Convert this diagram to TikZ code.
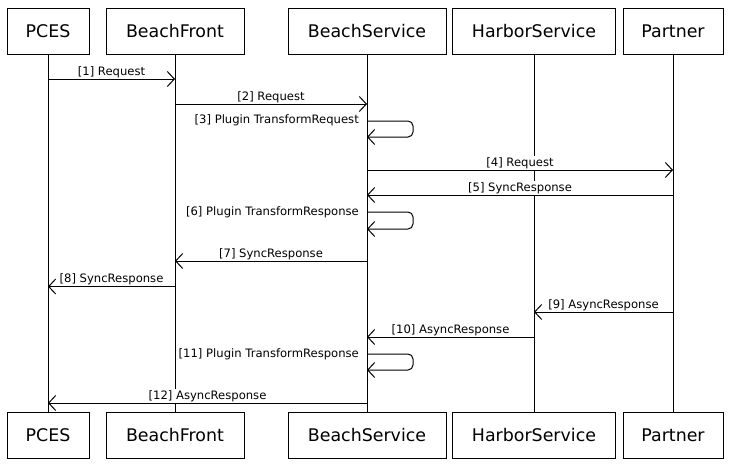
\documentclass[tikz,border=0pt]{standalone}
\usepackage{fontspec}
\setmainfont{DejaVu Sans}
\usetikzlibrary{arrows.meta}
\begin{document}
\begin{tikzpicture}[x=1pt,y=-1pt,
  actor/.style={draw=black,line width=1pt,minimum height=46pt,inner sep=0pt,font=\fontsize{17.4}{20}\selectfont},
  life/.style={draw=black,line width=1pt},
  msg/.style={draw=black,line width=1pt,-{Straight Barb[length=7pt,width=15pt,line width=1pt]}},
  lbl/.style={font=\fontsize{11.6}{13}\selectfont,fill=white,inner sep=1pt,anchor=south},
  slbl/.style={font=\fontsize{11.6}{13}\selectfont,inner sep=0pt,anchor=east}]
\useasboundingbox (0,0) rectangle (730,466);
\fill[white] (0,0) rectangle (730,466);
% top actors
\node[actor,minimum width=82pt]  (pces) at (48,31) {PCES};
\node[actor,minimum width=138pt] (bf)   at (175,31) {BeachFront};
\node[actor,minimum width=158pt] (bs)   at (367,31) {BeachService};
\node[actor,minimum width=163pt] (hs)   at (534,31) {HarborService};
\node[actor,minimum width=100pt] (pt)   at (673,31) {Partner};
% bottom actors
\node[actor,minimum width=82pt]  (pces2) at (48,435) {PCES};
\node[actor,minimum width=138pt] (bf2)   at (175,435) {BeachFront};
\node[actor,minimum width=158pt] (bs2)   at (367,435) {BeachService};
\node[actor,minimum width=163pt] (hs2)   at (534,435) {HarborService};
\node[actor,minimum width=100pt] (pt2)   at (673,435) {Partner};
% lifelines
\draw[life] (pces) -- (pces2);
\draw[life] (bf) -- (bf2);
\draw[life] (bs) -- (bs2);
\draw[life] (hs) -- (hs2);
\draw[life] (pt) -- (pt2);
% loop corner coordinates
\coordinate (l3a) at (413,121);  \coordinate (l3b) at (413,137);
\coordinate (l6a) at (413,212);  \coordinate (l6b) at (413,229);
\coordinate (l11a) at (413,354); \coordinate (l11b) at (413,370);
% messages
\draw[msg] (pces |- 0,79) -- node[lbl] {[1] Request} (bf |- 0,79);
\draw[msg] (bf |- 0,104) -- node[lbl] {[2] Request} (bs |- 0,104);
\draw[msg,rounded corners=5pt] (bs |- l3a) -- (l3a) -- (l3b) -- (bs |- l3b);
\node[slbl] (t3) at (359,120) {[3] Plugin TransformRequest};
\draw[msg] (bs |- 0,170) -- node[lbl] {[4] Request} (pt |- 0,170);
\draw[msg] (pt |- 0,195) -- node[lbl] {[5] SyncResponse} (bs |- 0,195);
\draw[msg,rounded corners=5pt] (bs |- l6a) -- (l6a) -- (l6b) -- (bs |- l6b);
\node[slbl] (t6) at (359,212) {[6] Plugin TransformResponse};
\draw[msg] (bs |- 0,261) -- node[lbl] {[7] SyncResponse} (bf |- 0,261);
\draw[msg] (bf |- 0,286.5) -- node[lbl] {[8] SyncResponse} (pces |- 0,286.5);
\draw[msg] (pt |- 0,312) -- node[lbl] {[9] AsyncResponse} (hs |- 0,312);
\draw[msg] (hs |- 0,337) -- node[lbl] {[10] AsyncResponse} (bs |- 0,337);
\draw[msg,rounded corners=5pt] (bs |- l11a) -- (l11a) -- (l11b) -- (bs |- l11b);
\node[slbl] (t11) at (359,354) {[11] Plugin TransformResponse};
\draw[msg] (bs |- 0,403) -- node[lbl] {[12] AsyncResponse} (pces |- 0,403);
\end{tikzpicture}
\end{document}
